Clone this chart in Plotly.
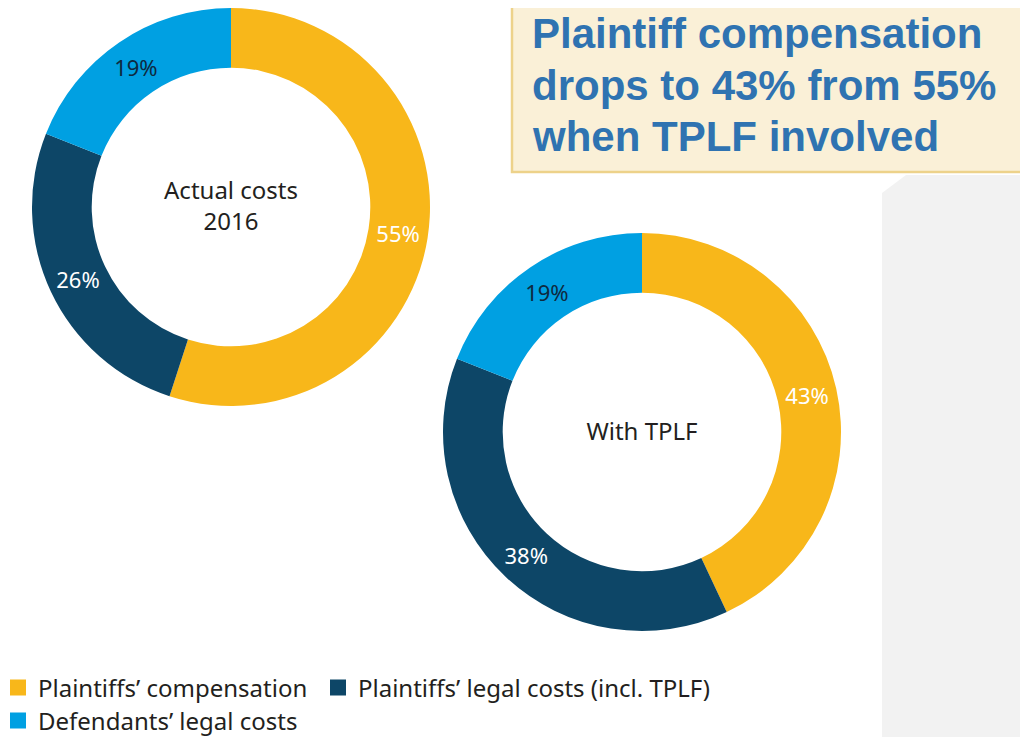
import plotly.graph_objects as go

# ---- data ----
categories = ["Plaintiffs’ compensation", "Plaintiffs’ legal costs (incl. TPLF)", "Defendants’ legal costs"]
actual_2016 = [55, 26, 19]
with_tplf = [43, 38, 19]
donut_titles = ["Actual costs<br>2016", "With TPLF"]
headline_lines = ["Plaintiff compensation", "drops to 43% from 55%", "when TPLF involved"]

colors = ["#F8B71A", "#0D4667", "#00A0E2"]
text_colors = ["#FFFFFF", "#FFFFFF", "#0E2A40"]

# page offset (default body margin of the html page)
OFF = 8
W, H = 1020, 729

def X(px):
    return (px - OFF) / W

def Y(py):
    return 1 - (py - OFF) / H

def dom(cx, cy, r):
    return dict(x=[max(0, X(cx - r)), min(1, X(cx + r))],
                y=[max(0, Y(cy + r)), min(1, Y(cy - r))])

FONT = "Noto Sans, Open Sans, sans-serif"

fig = go.Figure()
for vals, title, (cx, cy) in [
    (actual_2016, donut_titles[0], (231, 207)),
    (with_tplf, donut_titles[1], (642, 432)),
]:
    fig.add_trace(go.Pie(
        labels=categories,
        values=vals,
        hole=0.70,
        sort=False,
        direction="clockwise",
        rotation=0,
        marker=dict(colors=colors, line=dict(width=0)),
        texttemplate="%{value}%",
        textposition="inside",
        insidetextorientation="horizontal",
        textfont=dict(family=FONT, size=22, color=text_colors),
        title=dict(text=title, position="middle center",
                   font=dict(family=FONT, size=24, color="#231F20")),
        domain=dom(cx, cy, 199),
        showlegend=False,
        hoverinfo="label+percent",
    ))

# legend entries (one legend per entry so each can be placed like the reference)
legend_ids = ["legend", "legend2", "legend3"]
for cat, col, lid in zip(categories, colors, legend_ids):
    fig.add_trace(go.Scatter(
        x=[None], y=[None], mode="markers", name=cat,
        marker=dict(symbol="square", size=17, color=col),
        legend=lid, showlegend=True, hoverinfo="skip",
    ))

shapes = [
    # light gray side panel
    dict(type="path", xref="paper", yref="paper", layer="below",
         path=f"M {X(882)},{Y(193)} L {X(906)},{Y(175)} L {X(1032)},{Y(175)} L {X(1032)},{Y(745)} L {X(882)},{Y(745)} Z",
         fillcolor="#F2F2F2", line=dict(width=0)),
    # callout box
    dict(type="rect", xref="paper", yref="paper", layer="above",
         x0=X(512), x1=X(1040), y0=Y(172), y1=Y(-5),
         fillcolor="#FAF0D7", line=dict(color="#EDD28A", width=2.5)),
]

annotations = []
for line, py in zip(headline_lines, [34, 85, 137]):
    annotations.append(dict(
        text=f"<b>{line}</b>", xref="paper", yref="paper",
        x=X(530), y=Y(py), xanchor="left", yanchor="middle", showarrow=False,
        font=dict(family="Liberation Sans, Arial, sans-serif", size=42, color="#2F73B1"),
    ))

leg_common = dict(orientation="h", xanchor="left", yanchor="middle",
                  font=dict(family=FONT, size=24, color="#231F20"),
                  bgcolor="rgba(0,0,0,0)")

fig.update_layout(
    width=W, height=H,
    margin=dict(l=0, r=0, t=0, b=0, autoexpand=False),
    paper_bgcolor="white",
    plot_bgcolor="rgba(0,0,0,0)",
    xaxis=dict(visible=False),
    yaxis=dict(visible=False),
    shapes=shapes,
    annotations=annotations,
    legend=dict(x=X(-2), y=Y(688), **leg_common),
    legend2=dict(x=X(318), y=Y(688), **leg_common),
    legend3=dict(x=X(-2), y=Y(721), **leg_common),
)

fig.write_html("out.html")
